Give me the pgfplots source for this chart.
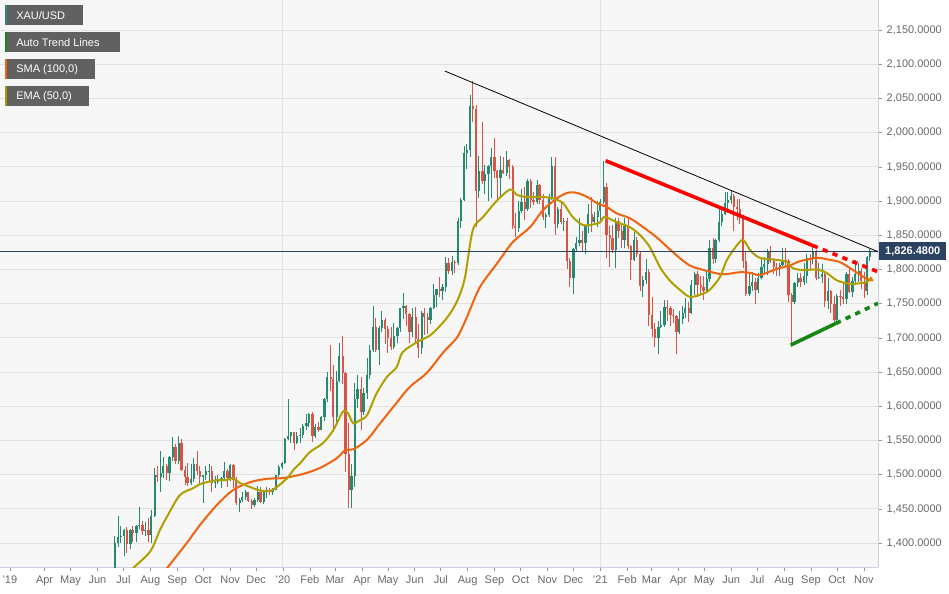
\documentclass[border=0pt]{standalone}
\usepackage{pgfplots}
\pgfplotsset{compat=1.18}
\usepackage{pgfplotstable}
\usepackage{fontspec}
\setmainfont{Liberation Sans}
\definecolor{upc}{RGB}{38,138,112}
\definecolor{dnc}{RGB}{217,84,70}
\definecolor{smac}{RGB}{240,100,15}
\definecolor{emac}{RGB}{175,160,0}
\definecolor{gridc}{RGB}{226,226,226}
\definecolor{bgc}{RGB}{247,247,247}
\definecolor{axc}{RGB}{200,208,225}
\definecolor{lblc}{RGB}{105,105,105}
\definecolor{legc}{RGB}{97,97,97}
\definecolor{navy}{RGB}{44,66,98}
\definecolor{tgreen}{RGB}{20,135,20}
\definecolor{stripteal}{RGB}{42,138,122}
\definecolor{stripolive}{RGB}{160,154,0}

% days since 1 Jan 2020, open, high, low, close (semi-weekly candles)
\pgfplotstableread{
d o h l c
-197 1341 1363 1331 1361
-194 1361 1411 1357 1400
-190 1400 1439 1394 1409
-187 1409 1425 1400 1410
-183 1410 1421 1381 1419
-180 1419 1423 1386 1399
-176 1399 1420 1392 1419
-173 1419 1425 1402 1415
-169 1415 1427 1401 1425
-166 1425 1452 1420 1427
-162 1427 1432 1412 1418
-159 1418 1431 1410 1419
-155 1419 1436 1401 1412
-152 1412 1449 1400 1440
-148 1440 1510 1438 1500
-145 1500 1512 1490 1497
-141 1497 1535 1474 1502
-138 1502 1526 1495 1513
-134 1513 1515 1492 1502
-131 1502 1527 1491 1526
-127 1526 1555 1520 1540
-124 1540 1545 1515 1520
-120 1520 1557 1516 1547
-117 1547 1552 1506 1507
-113 1507 1512 1485 1497
-110 1497 1517 1484 1488
-106 1488 1516 1485 1494
-103 1494 1524 1490 1516
-99 1516 1535 1500 1505
-96 1505 1513 1487 1497
-92 1497 1500 1459 1499
-89 1499 1513 1492 1505
-85 1505 1516 1490 1506
-82 1506 1512 1474 1488
-78 1488 1498 1480 1490
-75 1490 1500 1486 1491
-71 1491 1497 1480 1495
-68 1495 1518 1492 1505
-64 1505 1509 1482 1495
-61 1495 1516 1491 1514
-57 1514 1515 1480 1492
-54 1492 1496 1456 1459
-50 1459 1466 1445 1463
-47 1463 1474 1460 1468
-43 1468 1478 1463 1474
-40 1474 1475 1460 1462
-36 1462 1464 1450 1455
-33 1455 1466 1452 1463
-29 1463 1484 1460 1475
-26 1475 1482 1458 1460
-22 1460 1475 1457 1474
-19 1474 1482 1466 1476
-15 1476 1480 1470 1475
-12 1475 1481 1471 1478
-8 1478 1500 1477 1499
-5 1499 1514 1497 1511
-1 1511 1519 1508 1517
2 1517 1553 1515 1552
6 1552 1611 1550 1556
9 1556 1563 1546 1562
13 1562 1563 1536 1547
16 1547 1562 1545 1557
20 1557 1568 1546 1558
23 1558 1574 1553 1571
27 1571 1588 1566 1576
30 1576 1590 1569 1589
34 1589 1592 1548 1556
37 1556 1574 1554 1570
41 1570 1577 1563 1566
44 1566 1586 1565 1584
48 1584 1612 1578 1611
51 1611 1650 1606 1643
55 1643 1689 1623 1640
58 1640 1660 1563 1585
62 1585 1652 1575 1637
65 1637 1692 1635 1673
69 1673 1703 1632 1648
72 1648 1650 1504 1530
76 1530 1575 1451 1477
79 1477 1516 1451 1498
83 1498 1634 1482 1611
86 1611 1645 1598 1625
90 1625 1643 1565 1591
93 1591 1627 1587 1620
97 1620 1671 1610 1646
100 1646 1690 1640 1683
104 1683 1747 1680 1716
107 1716 1729 1680 1683
111 1683 1717 1660 1714
114 1714 1739 1708 1726
118 1726 1729 1691 1713
121 1713 1718 1678 1700
125 1700 1716 1683 1686
128 1686 1722 1684 1703
132 1703 1716 1692 1715
135 1715 1744 1708 1743
139 1743 1765 1727 1747
142 1747 1748 1717 1735
146 1735 1736 1693 1708
149 1708 1744 1702 1730
153 1730 1745 1691 1698
156 1698 1720 1671 1685
160 1685 1739 1677 1737
163 1737 1744 1704 1730
167 1730 1736 1705 1726
170 1726 1745 1720 1743
174 1743 1779 1742 1762
177 1762 1771 1745 1771
181 1771 1789 1760 1769
184 1769 1779 1756 1775
188 1775 1818 1767 1809
191 1809 1817 1794 1798
195 1798 1820 1792 1811
198 1811 1814 1795 1810
202 1810 1875 1807 1871
205 1871 1905 1860 1902
209 1902 1981 1900 1970
212 1970 1984 1947 1975
216 1975 2055 1965 2039
219 2039 2075 2015 2035
223 2035 2040 1862 1915
226 1915 1966 1905 1944
230 1944 2015 1925 1929
233 1929 1953 1911 1940
237 1940 1953 1900 1952
240 1952 1977 1904 1964
244 1964 1992 1934 1944
247 1944 1946 1903 1934
251 1934 1966 1906 1946
254 1946 1965 1939 1941
258 1941 1973 1937 1960
261 1960 1962 1933 1950
265 1950 1953 1859 1863
268 1863 1882 1848 1861
272 1861 1900 1855 1886
275 1886 1917 1883 1899
279 1899 1921 1873 1888
282 1888 1933 1885 1930
286 1930 1933 1890 1902
289 1902 1913 1894 1899
293 1899 1931 1895 1924
296 1924 1925 1896 1902
300 1902 1911 1872 1877
303 1877 1882 1860 1879
307 1879 1911 1877 1904
310 1904 1965 1902 1951
314 1951 1965 1850 1866
317 1866 1892 1861 1889
321 1889 1898 1866 1870
324 1870 1875 1856 1871
328 1871 1875 1800 1812
331 1812 1817 1774 1788
335 1788 1832 1764 1830
338 1830 1848 1826 1839
342 1839 1875 1835 1843
345 1843 1856 1825 1839
349 1839 1865 1822 1863
352 1863 1896 1853 1881
356 1881 1906 1855 1870
359 1870 1884 1866 1877
363 1877 1900 1862 1886
366 1886 1903 1873 1898
370 1898 1959 1895 1920
373 1920 1926 1817 1850
377 1850 1864 1803 1846
380 1846 1865 1824 1828
384 1828 1875 1802 1871
387 1871 1875 1846 1856
391 1856 1867 1832 1843
394 1843 1875 1831 1863
398 1863 1875 1830 1834
401 1834 1836 1785 1814
405 1814 1855 1812 1843
408 1843 1848 1818 1823
412 1823 1827 1769 1776
415 1776 1790 1760 1784
419 1784 1815 1779 1797
422 1797 1800 1717 1734
426 1734 1760 1702 1713
429 1713 1722 1687 1700
433 1700 1725 1676 1716
436 1716 1739 1714 1719
440 1719 1755 1716 1745
443 1745 1755 1725 1744
447 1744 1746 1718 1734
450 1734 1742 1722 1732
454 1732 1733 1677 1708
457 1708 1740 1705 1728
461 1728 1746 1720 1737
464 1737 1758 1729 1744
468 1744 1752 1723 1736
471 1736 1784 1735 1777
475 1777 1797 1763 1793
478 1793 1798 1760 1777
482 1777 1790 1764 1774
485 1774 1790 1756 1769
489 1769 1798 1765 1786
492 1786 1843 1782 1831
496 1831 1846 1808 1815
499 1815 1845 1809 1843
503 1843 1890 1840 1870
506 1870 1890 1863 1881
510 1881 1913 1880 1897
513 1897 1913 1885 1902
517 1902 1916 1895 1908
520 1908 1910 1856 1891
524 1891 1903 1872 1888
527 1888 1903 1866 1877
531 1877 1879 1802 1812
534 1812 1825 1761 1764
538 1764 1795 1761 1776
541 1776 1796 1768 1781
545 1781 1787 1750 1770
548 1770 1795 1766 1787
552 1787 1815 1786 1804
555 1804 1818 1795 1808
559 1808 1830 1792 1826
562 1826 1834 1809 1812
566 1812 1817 1794 1803
569 1803 1809 1790 1802
573 1802 1810 1790 1807
576 1807 1832 1805 1814
580 1814 1832 1803 1813
583 1813 1816 1753 1763
587 1763 1765 1687 1752
590 1752 1782 1750 1780
594 1780 1795 1775 1787
597 1787 1795 1774 1781
601 1781 1810 1778 1790
604 1790 1822 1780 1817
608 1817 1823 1801 1815
611 1815 1834 1808 1827
615 1827 1829 1785 1788
618 1788 1809 1786 1789
622 1789 1808 1780 1794
625 1794 1795 1745 1754
629 1754 1787 1742 1768
632 1768 1770 1737 1750
636 1750 1761 1721 1726
639 1726 1764 1722 1761
643 1761 1770 1746 1760
646 1760 1782 1749 1757
650 1757 1796 1750 1794
653 1794 1800 1765 1767
657 1767 1789 1760 1783
660 1783 1814 1778 1793
664 1793 1810 1782 1798
667 1798 1802 1771 1783
671 1783 1796 1758 1769
674 1769 1819 1762 1818
677 1818 1830 1812 1826.48
}\candles

\begin{document}
\begin{tikzpicture}
\begin{axis}[
  scale only axis, width=658.5pt, height=425.25pt,
  xmin=-326.4, xmax=686.3, ymin=1365, ymax=2194,
  clip mode=individual,
  axis background/.style={fill=bgc},
  axis x line*=bottom, axis y line*=right,
  axis line style={-, draw=axc, line width=0.75pt},
  tick align=outside, major tick length=3pt,
  tick style={draw=lblc!70, line width=0.5pt},
  xtick={-315,-275,-245,-214,-184,-153,-122,-92,-61,-31,0,31,60,91,121,152,182,213,244,274,305,335,366,397,425,456,486,517,547,578,609,639,670},
  xticklabels={'19,Apr,May,Jun,Jul,Aug,Sep,Oct,Nov,Dec,'20,Feb,Mar,Apr,May,Jun,Jul,Aug,Sep,Oct,Nov,Dec,'21,Feb,Mar,Apr,May,Jun,Jul,Aug,Sep,Oct,Nov},
  extra x ticks={0,366}, extra x tick labels={},
  extra x tick style={grid=major, major tick length=0pt},
  ytick={1400,1450,...,2150},
  ymajorgrids=true,
  grid style={draw=gridc, line width=0.75pt},
  scaled y ticks=false,
  /pgf/number format/.cd, fixed, fixed zerofill, precision=4, 1000 sep={,}, assume math mode=true,
  /pgfplots/.cd,
  tick label style={font=\fontsize{8.25}{10}\selectfont, text=lblc},
  yticklabel style={anchor=west, xshift=0pt},
  xticklabel style={anchor=north},
]
% wicks
\addplot[draw=none, mark=none, forget plot,
  restrict expr to domain={\thisrow{c}-\thisrow{o}}{0:10000},
  error bars/.cd, y dir=plus, y explicit, error mark=none,
  error bar style={draw=upc, line width=0.75pt}]
  table[x=d, y=l, y error plus expr={\thisrow{h}-\thisrow{l}}] {\candles};
\addplot[draw=none, mark=none, forget plot,
  restrict expr to domain={\thisrow{c}-\thisrow{o}}{-10000:-0.001},
  error bars/.cd, y dir=plus, y explicit, error mark=none,
  error bar style={draw=dnc, line width=0.75pt}]
  table[x=d, y=l, y error plus expr={\thisrow{h}-\thisrow{l}}] {\candles};
% bodies
\addplot[draw=none, mark=none, forget plot,
  restrict expr to domain={\thisrow{c}-\thisrow{o}}{0:10000},
  error bars/.cd, y dir=plus, y explicit, error mark=none,
  error bar style={draw=upc, line width=1.7pt}]
  table[x=d, y=o, y error plus expr={\thisrow{c}-\thisrow{o}}] {\candles};
\addplot[draw=none, mark=none, forget plot,
  restrict expr to domain={\thisrow{c}-\thisrow{o}}{-10000:-0.001},
  error bars/.cd, y dir=plus, y explicit, error mark=none,
  error bar style={draw=dnc, line width=1.7pt}]
  table[x=d, y=c, y error plus expr={\thisrow{o}-\thisrow{c}}] {\candles};

% SMA (100)
\addplot[smac, line width=1.5pt, smooth, mark=none] coordinates {
(-150,1338) (-134,1363) (-111,1400) (-96,1426) (-76,1456) (-58,1477) (-38,1489) (-18,1494) (0,1495) (23,1501) (43,1510) (62,1524) (72,1536) (81,1537) (97,1551) (112,1575) (131,1605) (146,1628) (166,1649) (185,1679) (201,1701) (212,1730) (227,1774) (247,1809) (265,1840) (285,1862) (300,1887) (316,1904) (328,1912) (339,1912) (351,1906) (362,1897) (374,1891) (385,1882) (400,1875) (412,1865) (431,1847) (450,1825) (469,1806) (489,1798) (507,1793) (527,1796) (539,1795) (550,1792) (570,1801) (585,1806) (596,1812) (616,1817) (627,1815) (642,1811) (654,1802) (666,1792) (674,1786) (681,1784)
};
% EMA (50)
\addplot[emac, line width=1.5pt, smooth, mark=none] coordinates {
(-185,1345) (-173,1363) (-153,1388) (-142,1419) (-134,1438) (-119,1470) (-104,1480) (-96,1486) (-88,1489) (-76,1492) (-65,1492) (-58,1495) (-50,1488) (-38,1482) (-27,1477) (-15,1476) (-7,1482) (5,1495) (12,1507) (20,1517) (31,1533) (46,1546) (58,1565) (69,1592) (75,1590) (81,1575) (89,1580) (97,1587) (108,1619) (120,1643) (131,1657) (138,1679) (155,1694) (170,1704) (185,1723) (195,1740) (203,1760) (210,1789) (219,1858) (231,1877) (247,1901) (262,1917) (270,1909) (281,1906) (300,1906) (311,1904) (323,1897) (334,1877) (346,1865) (358,1866) (366,1869) (371,1877) (385,1869) (400,1862) (412,1850) (423,1833) (435,1803) (446,1784) (458,1770) (469,1760) (481,1763) (492,1770) (504,1789) (512,1814) (524,1836) (531,1843) (539,1828) (550,1817) (570,1814) (581,1811) (588,1802) (600,1799) (616,1800) (627,1795) (639,1784) (654,1779) (666,1780) (674,1782) (679,1789)
};
% last price line
\addplot[navy, line width=0.75pt, mark=none] coordinates {(-326.4,1826.48) (686.3,1826.48)};
% auto trend lines
\addplot[black, line width=0.6pt, mark=none] coordinates {(186.9,2090) (686.3,1826)};
\addplot[red, line width=2.7pt, mark=none] coordinates {(372.2,1959) (611,1835)};
\addplot[red, line width=2.7pt, mark=none, dash pattern=on 4pt off 4pt] coordinates {(611,1835) (686.3,1796.6)};
\addplot[tgreen, line width=2.7pt, mark=none] coordinates {(585.6,1689.5) (637.8,1721.2)};
\addplot[tgreen, line width=2.7pt, mark=none, dash pattern=on 4pt off 4pt] coordinates {(637.8,1721.2) (686.3,1750.6)};
% price tag
\node[anchor=west, fill=navy, text=white, font=\fontsize{8.25}{10}\selectfont\bfseries,
  minimum width=50.25pt, minimum height=13.5pt, inner sep=0pt]
  at (axis cs:686.3,1826.48) [xshift=0.75pt] {1,826.4800};
\end{axis}
% top border line
\draw[gridc, line width=0.75pt] (0,425.25pt) -- (658.5pt,425.25pt);
% legend boxes (pixel units from top-left)
\begin{scope}[shift={(0,425.25pt)}, x=0.75pt, y=-0.75pt]
\fill[legc] (5,5) rectangle (83,25.5);
\fill[stripteal] (5,5) rectangle (7,25.5);
\node[anchor=west, text=white, font=\fontsize{8.25}{10}\selectfont, inner sep=0pt] at (16,15.3) {XAU/USD};
\fill[legc] (5,32) rectangle (120,52.5);
\fill[tgreen] (5,32) rectangle (7,52.5);
\node[anchor=west, text=white, font=\fontsize{8.25}{10}\selectfont, inner sep=0pt] at (16,42.3) {Auto Trend Lines};
\fill[legc] (5,59) rectangle (95,79.5);
\fill[smac] (5,59) rectangle (7,79.5);
\node[anchor=west, text=white, font=\fontsize{8.25}{10}\selectfont, inner sep=0pt] at (16,69.3) {SMA (100,0)};
\fill[legc] (5,86) rectangle (89,106.5);
\fill[stripolive] (5,86) rectangle (7,106.5);
\node[anchor=west, text=white, font=\fontsize{8.25}{10}\selectfont, inner sep=0pt] at (16,96.3) {EMA (50,0)};
\end{scope}
\pgfresetboundingbox
\useasboundingbox (0,-19.5pt) rectangle (711.75pt,425.25pt);
\end{tikzpicture}
\end{document}
